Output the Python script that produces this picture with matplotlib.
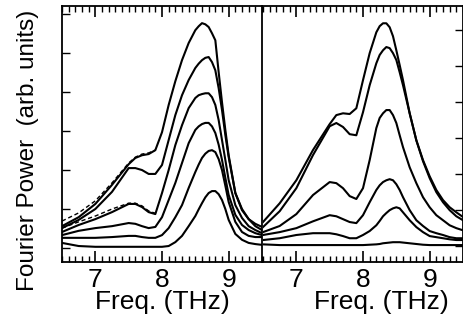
import matplotlib
matplotlib.use('Agg')
import matplotlib.pyplot as plt
from matplotlib.ticker import MultipleLocator

plt.rcParams['font.family'] = ['Liberation Sans', 'DejaVu Sans']

# frequency grids (THz)
left_freq = [6.5, 6.75, 7.0, 7.25, 7.5, 7.6, 7.7, 7.8, 7.9, 8.0, 8.1, 8.2, 8.3, 8.4, 8.5,
             8.55, 8.6, 8.65, 8.7, 8.75, 8.8, 8.85, 8.9, 8.95, 9.0, 9.1, 9.2, 9.3, 9.4, 9.5]
right_freq = [6.5, 6.75, 7.0, 7.25, 7.5, 7.6, 7.7, 7.8, 7.9, 8.0, 8.1, 8.2, 8.25, 8.3, 8.35,
              8.4, 8.45, 8.5, 8.55, 8.6, 8.7, 8.8, 8.9, 9.0, 9.1, 9.2, 9.3, 9.4, 9.5]

# left panel spectra (arb. units)
left_1 = [0.13, 0.05, 0.03, 0.03, 0.03, 0.03, 0.03, 0.03, 0.03, 0.03, 0.05, 0.15, 0.31, 0.56, 0.82,
          0.99, 1.15, 1.30, 1.41, 1.46, 1.46, 1.38, 1.23, 1.00, 0.72, 0.36, 0.21, 0.13, 0.10, 0.08]
left_2 = [0.26, 0.26, 0.26, 0.28, 0.31, 0.31, 0.28, 0.26, 0.26, 0.33, 0.51, 0.79, 1.10, 1.54, 1.95,
          2.14, 2.31, 2.42, 2.49, 2.51, 2.46, 2.28, 2.00, 1.60, 1.18, 0.67, 0.41, 0.31, 0.28, 0.28]
left_3 = [0.33, 0.44, 0.51, 0.56, 0.64, 0.62, 0.56, 0.51, 0.54, 0.79, 1.23, 1.67, 2.18, 2.69, 3.03,
          3.12, 3.18, 3.21, 3.21, 3.12, 2.95, 2.65, 2.26, 1.80, 1.36, 0.85, 0.59, 0.46, 0.38, 0.33]
left_4 = [0.41, 0.59, 0.74, 0.92, 1.13, 1.13, 1.05, 0.92, 0.87, 1.41, 2.00, 2.64, 3.15, 3.59, 3.85,
          3.92, 3.95, 3.97, 3.97, 3.87, 3.67, 3.28, 2.77, 2.26, 1.74, 1.10, 0.77, 0.56, 0.46, 0.38]
left_5 = [0.51, 0.72, 1.00, 1.44, 2.05, 2.05, 2.00, 1.90, 1.90, 2.13, 2.77, 3.41, 3.92, 4.31, 4.62,
          4.73, 4.82, 4.88, 4.90, 4.77, 4.56, 4.10, 3.54, 2.90, 2.33, 1.41, 0.97, 0.74, 0.56, 0.46]
left_6 = [0.56, 0.79, 1.13, 1.62, 2.15, 2.31, 2.38, 2.41, 2.51, 2.97, 3.67, 4.28, 4.82, 5.26, 5.59,
          5.69, 5.77, 5.74, 5.67, 5.51, 5.33, 4.51, 3.74, 3.03, 2.38, 1.41, 1.00, 0.74, 0.62, 0.54]

# dashed fits (left panel, low-frequency side)
fit_freq = [6.5, 6.75, 7.0, 7.25, 7.5, 7.6, 7.7, 7.8, 7.9]
fit_6 = [0.69, 0.90, 1.21, 1.67, 2.18, 2.33, 2.41, 2.44, 2.51]
fit_4 = [0.51, 0.67, 0.82, 1.00, 1.15, 1.15, 1.08, 0.95, 0.89]

# right panel spectra (arb. units)
right_1 = [0.05, 0.03, 0.03, 0.03, 0.03, 0.03, 0.03, 0.03, 0.03, 0.03, 0.04, 0.05, 0.06, 0.08, 0.09,
           0.10, 0.11, 0.11, 0.11, 0.10, 0.08, 0.06, 0.04, 0.03, 0.03, 0.03, 0.03, 0.03, 0.03]
right_2 = [0.17, 0.22, 0.31, 0.36, 0.36, 0.33, 0.28, 0.22, 0.22, 0.31, 0.42, 0.58, 0.70, 0.83, 0.92,
           1.00, 1.05, 1.08, 1.05, 0.94, 0.72, 0.53, 0.39, 0.28, 0.25, 0.22, 0.19, 0.17, 0.17]
right_3 = [0.31, 0.39, 0.50, 0.69, 0.86, 0.83, 0.75, 0.67, 0.64, 0.86, 1.22, 1.56, 1.69, 1.78, 1.83,
           1.86, 1.83, 1.72, 1.56, 1.36, 1.00, 0.72, 0.56, 0.42, 0.36, 0.31, 0.25, 0.22, 0.22]
right_4 = [0.39, 0.56, 0.89, 1.42, 1.78, 1.75, 1.61, 1.39, 1.31, 1.61, 2.39, 3.28, 3.56, 3.69, 3.78,
           3.78, 3.64, 3.42, 3.08, 2.75, 2.19, 1.75, 1.36, 1.08, 0.86, 0.72, 0.58, 0.50, 0.44]
right_5 = [0.53, 0.97, 1.61, 2.53, 3.33, 3.42, 3.31, 3.11, 3.08, 3.72, 4.47, 5.08, 5.31, 5.44, 5.53,
           5.50, 5.36, 5.17, 4.83, 4.47, 3.69, 2.94, 2.36, 1.89, 1.50, 1.22, 1.00, 0.83, 0.72]
right_6 = [0.67, 1.19, 1.83, 2.67, 3.39, 3.64, 3.69, 3.67, 3.83, 4.61, 5.36, 5.94, 6.11, 6.19, 6.19,
           6.08, 5.83, 5.44, 5.03, 4.61, 3.69, 2.94, 2.39, 1.94, 1.56, 1.28, 1.08, 0.94, 0.81]

left_curves = [left_1, left_2, left_3, left_4, left_5, left_6]
right_curves = [right_1, right_2, right_3, right_4, right_5, right_6]

fig = plt.figure(figsize=(4.64, 3.24), dpi=100)
ax1 = fig.add_axes([62 / 464, 62 / 324, 200 / 464, 256 / 324])
ax2 = fig.add_axes([263 / 464, 62 / 324, 200 / 464, 256 / 324])

for c in left_curves:
    ax1.plot(left_freq, c, color='black', lw=1.5, solid_joinstyle='round')
ax1.plot(fit_freq, fit_6, color='black', lw=1.0, ls=(0, (3, 2)))
ax1.plot(fit_freq, fit_4, color='black', lw=1.0, ls=(0, (3, 2)))

for c in right_curves:
    ax2.plot(right_freq, c, color='black', lw=1.5, solid_joinstyle='round')

ax1.set_ylim(-0.36, 6.21)
ax2.set_ylim(-0.44, 6.67)

for ax in (ax1, ax2):
    ax.set_xlim(6.5, 9.5)
    ax.xaxis.set_major_locator(MultipleLocator(1))
    ax.xaxis.set_minor_locator(MultipleLocator(0.1))
    ax.yaxis.set_major_locator(MultipleLocator(1))
    ax.tick_params(axis='x', which='major', direction='in', length=8, width=1.2,
                   top=True, bottom=True, labelsize=19, pad=4)
    ax.tick_params(axis='x', which='minor', direction='in', length=4, width=1.0,
                   top=True, bottom=True)
    ax.set_xticks([7, 8, 9])
    ax.set_xticklabels(['7', '8', '9'])
    ax.set_xlabel('Freq. (THz)', fontsize=19)
    for s in ax.spines.values():
        s.set_linewidth(1.3)

ax2.spines['left'].set_visible(False)
ax1.tick_params(axis='y', which='major', direction='in', length=6, width=1.0,
                left=True, right=False, labelleft=False)
ax2.tick_params(axis='y', which='major', direction='in', length=6, width=1.0,
                left=False, right=True, labelleft=False, labelright=False)
ax1.xaxis.set_label_coords(0.5, -0.11)
ax2.xaxis.set_label_coords(0.59, -0.11)

fig.text(0.06, 0.535, 'Fourier Power  (arb. units)', rotation=90, fontsize=17.5,
         ha='center', va='center')

fig.savefig('out.png', dpi=100)
